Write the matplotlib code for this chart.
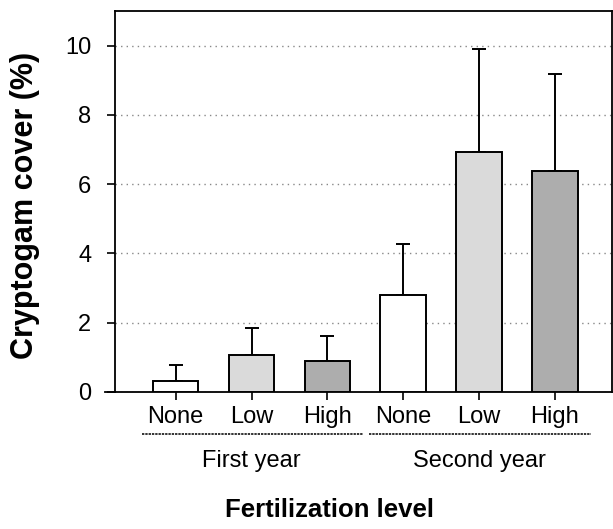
import matplotlib
matplotlib.use('Agg')
import matplotlib.pyplot as plt
import numpy as np

plt.rcParams['font.family'] = ['Liberation Sans', 'DejaVu Sans']

levels = ['None', 'Low', 'High', 'None', 'Low', 'High']
years = ['First year', 'Second year']
cover = [0.31, 1.08, 0.90, 2.81, 6.94, 6.39]
cover_se = [0.46, 0.77, 0.71, 1.46, 2.98, 2.80]
colors = ['white', '#dadada', '#adadad', 'white', '#dadada', '#adadad']

fig = plt.figure(figsize=(6.13, 5.29), dpi=100)
ax = fig.add_axes([0.1876, 0.259, 0.8104, 0.72])

x = np.arange(len(cover))
ax.bar(x, cover, width=0.6, color=colors, edgecolor='black', linewidth=1.4, zorder=3)
ax.errorbar(x, cover, yerr=[np.zeros(len(cover)), cover_se], fmt='none',
            ecolor='black', elinewidth=1.4, capsize=5, capthick=1.4, zorder=2)

ax.set_xlim(-0.8, 5.75)
ax.set_ylim(0, 11)
ax.set_yticks([0, 2, 4, 6, 8, 10])
ax.set_xticks(x)
ax.set_xticklabels(levels, fontsize=17)
ax.tick_params(axis='y', labelsize=17, direction='out', length=6, width=1.2, pad=11)
ax.tick_params(axis='x', direction='out', length=6, width=1.2, pad=4)
ax.yaxis.grid(True, linestyle=(0, (1, 3)), color='#888888', linewidth=1)
ax.set_axisbelow(True)
for s in ax.spines.values():
    s.set_linewidth(1.3)

# x axis line sticks out a little to the left
ax.plot([-0.02, 0], [0, 0], transform=ax.transAxes, color='black', lw=1.3, clip_on=False)

# group labels with underlines
trans = ax.get_xaxis_transform()
for i, yr in enumerate(years):
    x0 = x[3 * i] - 0.45
    x1 = x[3 * i + 2] + 0.47
    ax.plot([x0, x1], [-0.11, -0.11], transform=trans, color='#333333',
            lw=1.4, linestyle=(0, (1.2, 0.5)), clip_on=False)
    ax.text(x[3 * i + 1], -0.181, yr, transform=trans, ha='center', va='center',
            fontsize=17)

ax.set_ylabel('Cryptogam cover (%)', fontsize=22, fontweight='bold')
ax.yaxis.set_label_coords(-0.151, 0.49)
fig.text(0.538, 0.036, 'Fertilization level', ha='center', va='center',
         fontsize=18.5, fontweight='bold')

fig.savefig('out.png', dpi=100)
